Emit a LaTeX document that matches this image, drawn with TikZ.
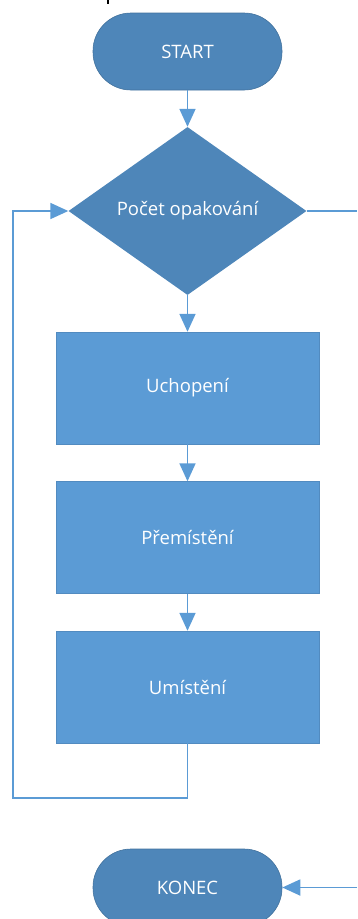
\documentclass[tikz,border=0pt]{standalone}
\usepackage{fontspec}
\setmainfont{Open Sans}
\usetikzlibrary{shapes.geometric,arrows.meta}
\definecolor{termblue}{HTML}{4E86B9}
\definecolor{boxblue}{HTML}{5B9BD5}
\definecolor{lineblue}{HTML}{5B9BD5}
\tikzset{
  term/.style={draw=termblue!85!black, line width=0.6pt, fill=termblue, rectangle, rounded corners=38pt,
    minimum width=189pt, minimum height=77pt, text=white, font=\fontsize{18.5}{20}\selectfont},
  decis/.style={fill=termblue, diamond, aspect=1.417, minimum width=238pt, minimum height=168pt,
    inner sep=0pt, text=white, font=\fontsize{18.5}{20}\selectfont},
  procbox/.style={fill=boxblue, draw=boxblue!90!black, line width=0.4pt, rectangle, minimum width=263pt,
    minimum height=112pt, text=white, font=\fontsize{18.5}{20}\selectfont},
  conn/.style={draw=lineblue, line width=1.8pt},
  arr/.style={conn, -{Triangle[length=18pt,width=16pt]}},
}
\begin{document}
\begin{tikzpicture}[x=1pt,y=-1pt]
\useasboundingbox (0,0) rectangle (358,919);
\clip (0,0) rectangle (358,919);
\draw[black, line width=1.6pt] (108,0) -- (108,4);
\node[term] (start) at (187.5,51.5) {START};
\node[decis] (dia) at (187.5,211) {Počet opakování};
\node[procbox] (b1) at (187.5,388) {Uchopení};
\node[procbox] (b2) at (187.5,537.5) {Přemístění};
\node[procbox] (b3) at (187.5,687) {Umístění};
\node[term] (konec) at (187.5,887.5) {KONEC};
\coordinate (lb) at (13,798);
\coordinate (rt) at (357,211);
\coordinate (rb) at (357,887.5);
\draw[arr] (start.south) -- (dia.north);
\draw[arr] (dia.south) -- (b1.north);
\draw[arr] (b1.south) -- (b2.north);
\draw[arr] (b2.south) -- (b3.north);
\draw[arr] (b3.south) |- (lb) |- (dia.west);
\draw[conn] (dia.east) -- (rt);
\draw[arr] (rb) -- (konec.east);
\end{tikzpicture}
\end{document}
